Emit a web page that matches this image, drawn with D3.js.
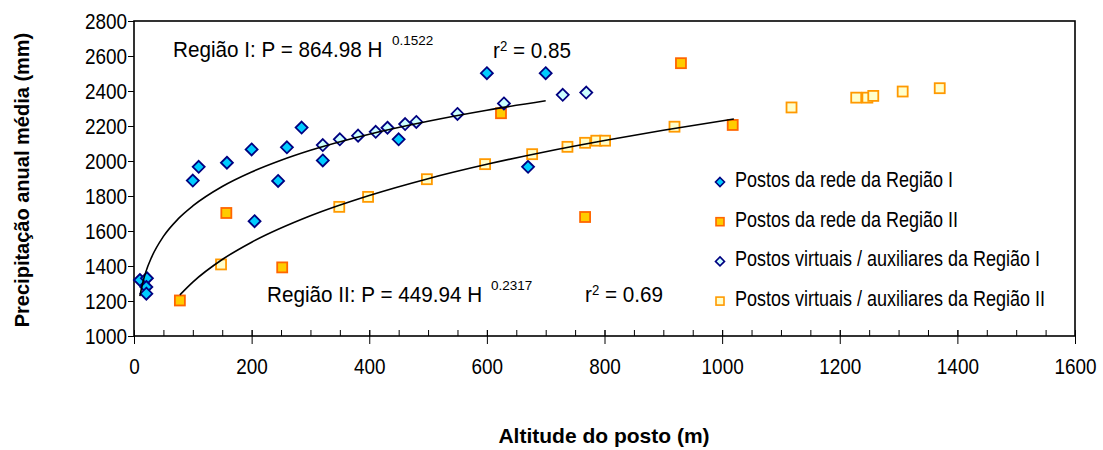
<!DOCTYPE html>
<html>
<head>
<meta charset="utf-8">
<script src="https://cdn.jsdelivr.net/npm/d3@7/dist/d3.min.js"></script>
<style>
  body { margin: 0; background: #fff; }
  svg { display: block; font-family: "Liberation Sans", Arial, sans-serif; }
</style>
</head>
<body>
<svg id="chart" width="1103" height="450"></svg>
<script>
// altitude (m), precipitation (mm)
var redeRegiaoI = [
  [10, 1320], [22, 1330], [21, 1280], [21, 1242], [100, 1888], [110, 1967],
  [158, 1990], [200, 2066], [205, 1656], [245, 1886], [260, 2078], [285, 2191],
  [321, 2003], [450, 2124], [600, 2502], [670, 1967], [700, 2502]
];
var redeRegiaoII = [
  [78, 1203], [157, 1703], [252, 1392], [624, 2273], [767, 1680], [930, 2559], [1018, 2206]
];
var virtuaisRegiaoI = [
  [321, 2091], [350, 2124], [381, 2145], [411, 2167], [431, 2190], [461, 2211],
  [480, 2223], [550, 2269], [629, 2329], [729, 2378], [769, 2391]
];
var virtuaisRegiaoII = [
  [148, 1409], [349, 1738], [398, 1795], [498, 1896], [597, 1982], [677, 2039],
  [737, 2081], [767, 2104], [786, 2116], [801, 2116], [919, 2196], [1118, 2306],
  [1228, 2362], [1247, 2362], [1257, 2372], [1307, 2397], [1370, 2416]
];

// trend curves, points
var tendenciaI = [
  [10, 1228], [15, 1306], [20, 1365], [30, 1451], [50, 1569], [75, 1669], [100, 1743],
  [150, 1854], [200, 1937], [250, 2004], [300, 2061], [400, 2153], [500, 2227],
  [600, 2290], [700, 2344]
];
var tendenciaII = [
  [78, 1235], [100, 1308], [150, 1437], [200, 1536], [300, 1687], [400, 1803],
  [500, 1899], [600, 1981], [700, 2053], [800, 2117], [900, 2176], [1020, 2240]
];

var xTicks = [0, 200, 400, 600, 800, 1000, 1200, 1400, 1600];
var xMinorTicks = d3.range(0, 1601, 50);
var yTicks = [1000, 1200, 1400, 1600, 1800, 2000, 2200, 2400, 2600, 2800];

var legendLabels = [
  'Postos da rede da Região I',
  'Postos da rede da Região II',
  'Postos virtuais / auxiliares da Região I',
  'Postos virtuais / auxiliares da Região II'
];

var styles = [
  { shape: 'diamond', fill: '#00ccff', stroke: '#000080' },
  { shape: 'square', fill: '#ffcc00', stroke: '#ff6600' },
  { shape: 'diamond', fill: '#ccffff', stroke: '#000080' },
  { shape: 'square', fill: '#ffffcc', stroke: '#ff9900' }
];
var seriesData = [redeRegiaoI, redeRegiaoII, virtuaisRegiaoI, virtuaisRegiaoII];

var svg = d3.select('#chart');
var plotLeft = 134, plotRight = 1075, plotTop = 21, plotBottom = 336;

var x = d3.scaleLinear().domain([0, 1600]).range([plotLeft, plotRight]);
var y = d3.scaleLinear().domain([1000, 2800]).range([plotBottom, plotTop]);

// squeeze text horizontally, the source font is narrow
function squeeze(sel, sx) {
  sel.each(function () {
    var t = d3.select(this);
    var tx = +t.attr('x') || 0;
    t.attr('x', tx / sx).attr('transform', 'scale(' + sx + ',1)');
  });
}

function marker(g, shape, size) {
  if (shape === 'diamond') {
    var h = size / 2;
    return g.append('path').attr('d', 'M0,' + (-h) + 'L' + h + ',0L0,' + h + 'L' + (-h) + ',0Z');
  }
  return g.append('rect')
    .attr('x', -size / 2 + 0.5).attr('y', -size / 2 + 0.5)
    .attr('width', size - 1).attr('height', size - 1);
}

// axes
var xMinor = svg.append('g')
  .attr('transform', 'translate(0,' + plotBottom + ')')
  .call(d3.axisBottom(x).tickValues(xMinorTicks).tickSize(-6).tickFormat(''));
xMinor.select('.domain').remove();

var xAxis = svg.append('g')
  .attr('transform', 'translate(0,' + plotBottom + ')')
  .call(d3.axisBottom(x).tickValues(xTicks).tickSize(8).tickFormat(d3.format('d')));
xAxis.select('.domain').remove();
xAxis.selectAll('.tick line').attr('y1', -6);
xAxis.selectAll('.tick text')
  .attr('y', 38).attr('dy', 0)
  .style('font-size', '22px').style('fill', '#000');
squeeze(xAxis.selectAll('.tick text'), 0.86);

var yAxis = svg.append('g')
  .attr('transform', 'translate(' + plotLeft + ',0)')
  .call(d3.axisLeft(y).tickValues(yTicks).tickSize(6).tickFormat(d3.format('d')));
yAxis.select('.domain').remove();
yAxis.selectAll('.tick text')
  .attr('x', -7).attr('dy', '0.36em')
  .style('font-size', '22px').style('fill', '#000');
squeeze(yAxis.selectAll('.tick text'), 0.86);

svg.selectAll('.tick line').attr('stroke', '#000');

svg.append('rect')
  .attr('x', plotLeft).attr('y', plotTop)
  .attr('width', plotRight - plotLeft).attr('height', plotBottom - plotTop)
  .attr('fill', 'none').attr('stroke', '#000').attr('stroke-width', 1.6);

// points
seriesData.forEach(function (data, i) {
  var st = styles[i];
  var g = svg.append('g').attr('class', 'series-' + i);
  data.forEach(function (d) {
    var m = g.append('g').attr('transform', 'translate(' + x(d[0]) + ',' + y(d[1]) + ')');
    marker(m, st.shape, st.shape === 'diamond' ? 12 : 11)
      .attr('fill', st.fill).attr('stroke', st.stroke).attr('stroke-width', 1.8);
  });
});

// trend lines
var line = d3.line()
  .x(function (d) { return x(d[0]); })
  .y(function (d) { return y(d[1]); })
  .curve(d3.curveMonotoneX);

[tendenciaI, tendenciaII].forEach(function (t) {
  svg.append('path')
    .attr('d', line(t))
    .attr('fill', 'none').attr('stroke', '#000').attr('stroke-width', 1.6);
});

// equations
function label(px, py, sx, fs) {
  var t = svg.append('text')
    .attr('transform', 'translate(' + px + ',' + py + ') scale(' + sx + ',1)')
    .style('font-size', fs + 'px').style('fill', '#000');
  return t;
}

label(173, 57, 0.94, 22).text('Região I: P = 864.98 H');
label(392, 45, 1, 13.5).text('0.1522');
var r1 = label(493, 58, 0.94, 22);
r1.append('tspan').text('r');
r1.append('tspan').attr('dy', -7).style('font-size', '14px').text('2');
r1.append('tspan').attr('dy', 7).text(' = 0.85');

label(267, 302, 0.94, 22).text('Região II: P = 449.94 H');
label(491, 290, 1, 13.5).text('0.2317');
var r2 = label(585, 302, 0.94, 22);
r2.append('tspan').text('r');
r2.append('tspan').attr('dy', -7).style('font-size', '14px').text('2');
r2.append('tspan').attr('dy', 7).text(' = 0.69');

// legend
var legend = svg.append('g').attr('class', 'legend');
legendLabels.forEach(function (name, i) {
  var ly = 182 + i * 39.7;
  var st = styles[i];
  var m = legend.append('g').attr('transform', 'translate(720,' + ly + ')');
  marker(m, st.shape, 9).attr('fill', st.fill).attr('stroke', st.stroke).attr('stroke-width', 1.6);
  label(735, ly + 5, 0.8, 22.5).text(name);
});

// axis titles
svg.append('text')
  .attr('transform', 'translate(29,180) rotate(-90)')
  .attr('text-anchor', 'middle')
  .style('font-size', '20px').style('font-weight', 'bold')
  .text('Precipitação anual média (mm)');

svg.append('text')
  .attr('x', 604).attr('y', 443)
  .attr('text-anchor', 'middle')
  .style('font-size', '21px').style('font-weight', 'bold')
  .text('Altitude do posto (m)');
</script>
</body>
</html>
